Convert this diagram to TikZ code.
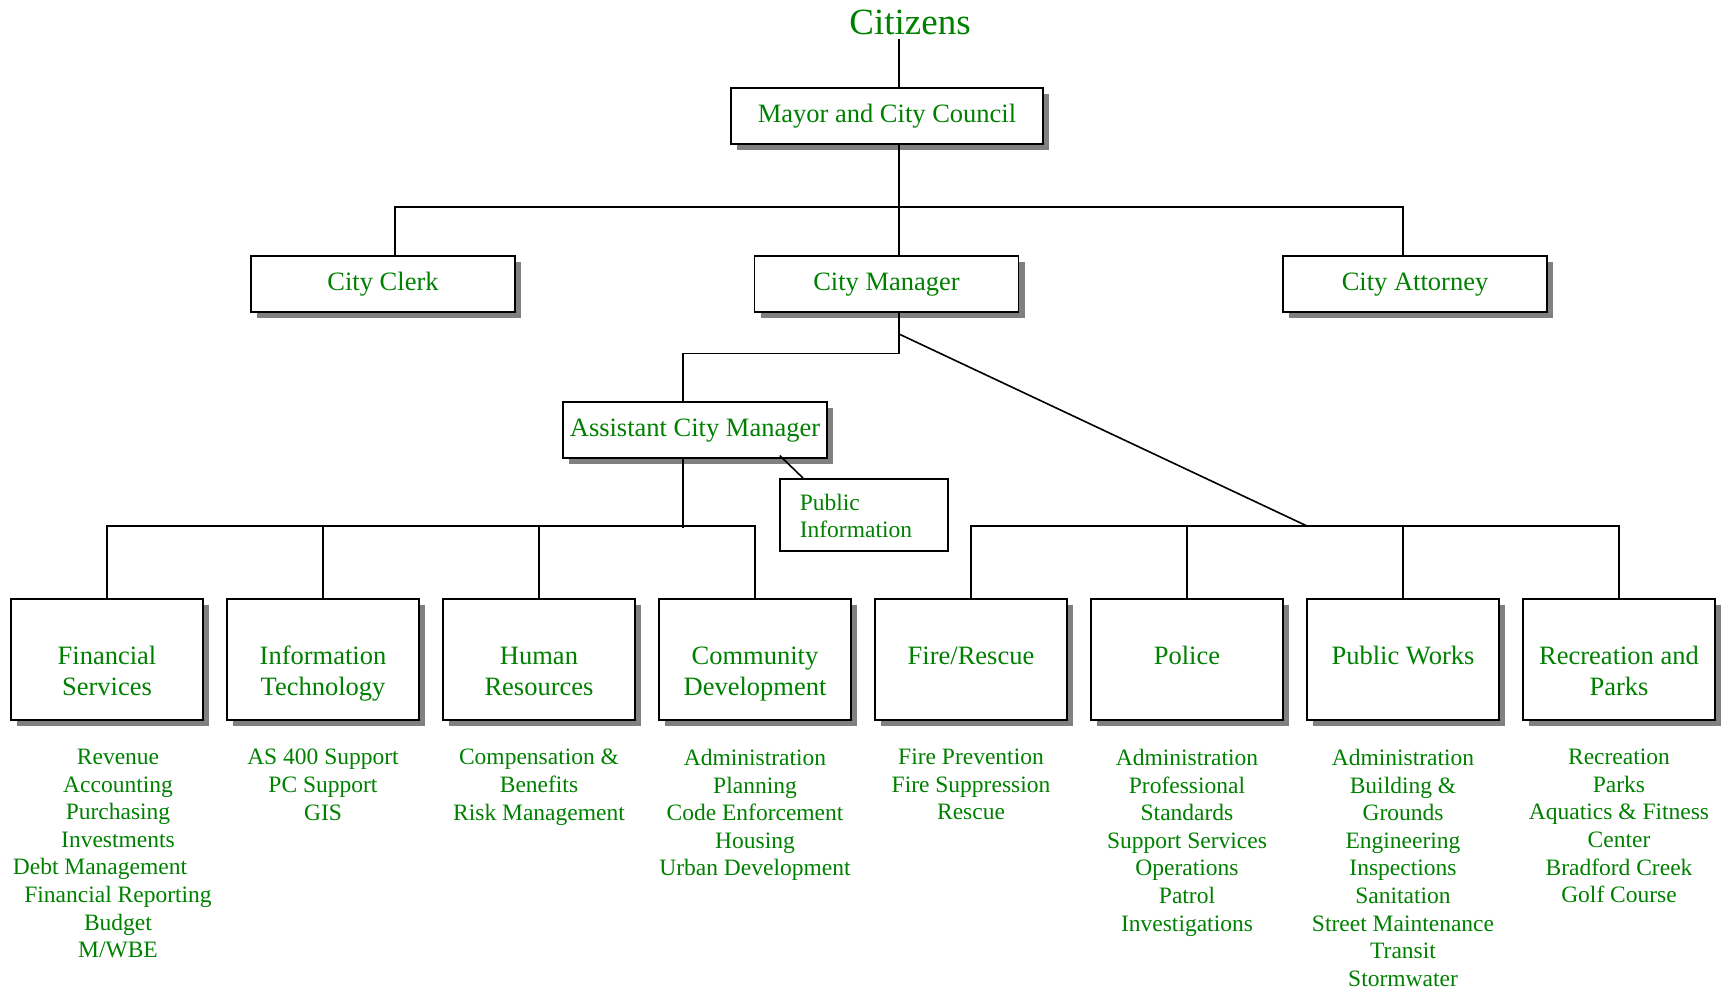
\documentclass[tikz,border=0pt]{standalone}
\usepackage{fontspec}
\setmainfont{Liberation Serif}
\usetikzlibrary{shadows}
\definecolor{orggreen}{RGB}{0,128,0}

\begin{document}
\begin{tikzpicture}[x=1pt,y=-1pt,
		officebox/.style={draw,line width=1.6pt,fill=white,text=orggreen,inner sep=0pt,anchor=north,
			minimum width=264pt,text height=35pt,text depth=21pt,font=\fontsize{26.5}{31}\selectfont,
			drop shadow={shadow xshift=6pt,shadow yshift=-6pt,fill=black!50,opacity=1}},
		deptbox/.style={officebox,minimum width=192pt,text height=66pt,text depth=55pt,align=center},
		twolines/.style={text height=97pt,text depth=24pt},
		dutylist/.style={text=orggreen,inner sep=0pt,align=center,anchor=north,font=\fontsize{23.5}{27.6}\selectfont},
		orgline/.style={line width=1.6pt}
		]
	\useasboundingbox (0,0) rectangle (1722,988);

	\node[text=orggreen,inner sep=0pt,anchor=base,font=\fontsize{37}{44}\selectfont](citizens) at (910,34){Citizens};
	\node[officebox,minimum width=312pt](mayor) at (887,87){Mayor and City Council};
	\node[officebox](clerk) at (383,255){City Clerk};
	\node[officebox](mgr) at (886.5,255){City Manager};
	\node[officebox](attorney) at (1415,255){City Attorney};
	\node[officebox](acm) at (695,401){Assistant City Manager};
	\node[draw,line width=1.6pt,text=orggreen,anchor=north west,text width=128pt,align=left,
		inner xsep=20pt,inner ysep=0pt,text height=32pt,text depth=40pt,
		font=\fontsize{23.5}{27}\selectfont](pubinfo) at (779,478){Public\\Information};

	\node[deptbox,twolines](fin) at (107,598){Financial\\Services};
	\node[deptbox,twolines](it) at (323,598){Information\\Technology};
	\node[deptbox,twolines](hr) at (539,598){Human\\Resources};
	\node[deptbox,twolines](comdev) at (755,598){Community\\Development};
	\node[deptbox](fire) at (971,598){Fire/Rescue};
	\node[deptbox](police) at (1187,598){Police};
	\node[deptbox](pworks) at (1403,598){Public Works};
	\node[deptbox,twolines](rec) at (1619,598){Recreation and\\Parks};

	\node[dutylist](finlist) at (118,749){Revenue\\Accounting\\Purchasing\\Investments\\Debt Management\rule{36pt}{0pt}\\Financial Reporting\\Budget\\M/WBE};
	\node[dutylist](itlist) at (323,749){AS 400 Support\\PC Support\\GIS};
	\node[dutylist](hrlist) at (539,749){Compensation \&\\Benefits\\Risk Management};
	\node[dutylist](comdevlist) at (755,749){Administration\\Planning\\Code Enforcement\\Housing\\Urban Development};
	\node[dutylist](firelist) at (971,749){Fire Prevention\\Fire Suppression\\Rescue};
	\node[dutylist](policelist) at (1187,749){Administration\\Professional\\Standards\\Support Services\\Operations\\Patrol\\Investigations};
	\node[dutylist](pworkslist) at (1403,749){Administration\\Building \&\\Grounds\\Engineering\\Inspections\\Sanitation\\Street Maintenance\\Transit\\Stormwater};
	\node[dutylist](reclist) at (1619,749){Recreation\\Parks\\Aquatics \& Fitness\\Center\\Bradford Creek\\Golf Course};

	\coordinate (fork) at (899,334);
	\coordinate (fieldbus) at (1307,526);
	\draw[orgline] ([xshift=-11pt,yshift=-4pt]citizens.south) -- ([xshift=12pt]mayor.north);
	\draw[orgline] ([xshift=12pt]mayor.south) -- ([xshift=12.5pt]mgr.north);
	\draw[orgline] ([xshift=12pt]clerk.north) -- ++(0,-48) -| ([xshift=-12pt]attorney.north);
	\draw[orgline] ([xshift=12.5pt]mgr.south) -- ++(0,41) -| ([xshift=-12pt]acm.north);
	\draw[orgline] (fork) -- (fieldbus);
	\draw[orgline] ([xshift=-12pt]acm.south) -- ++(0,69);
	\draw[orgline] ([xshift=-48pt,yshift=3pt]acm.south east) -- ([xshift=24pt]pubinfo.north west);
	\draw[orgline] (fin.north) -- ++(0,-72) -| (comdev.north);
	\foreach \d in {it,hr} \draw[orgline] (\d.north) -- ++(0,-72);
	\draw[orgline] (fire.north) -- ++(0,-72) -| (rec.north);
	\foreach \d in {police,pworks} \draw[orgline] (\d.north) -- ++(0,-72);
\end{tikzpicture}
\end{document}
